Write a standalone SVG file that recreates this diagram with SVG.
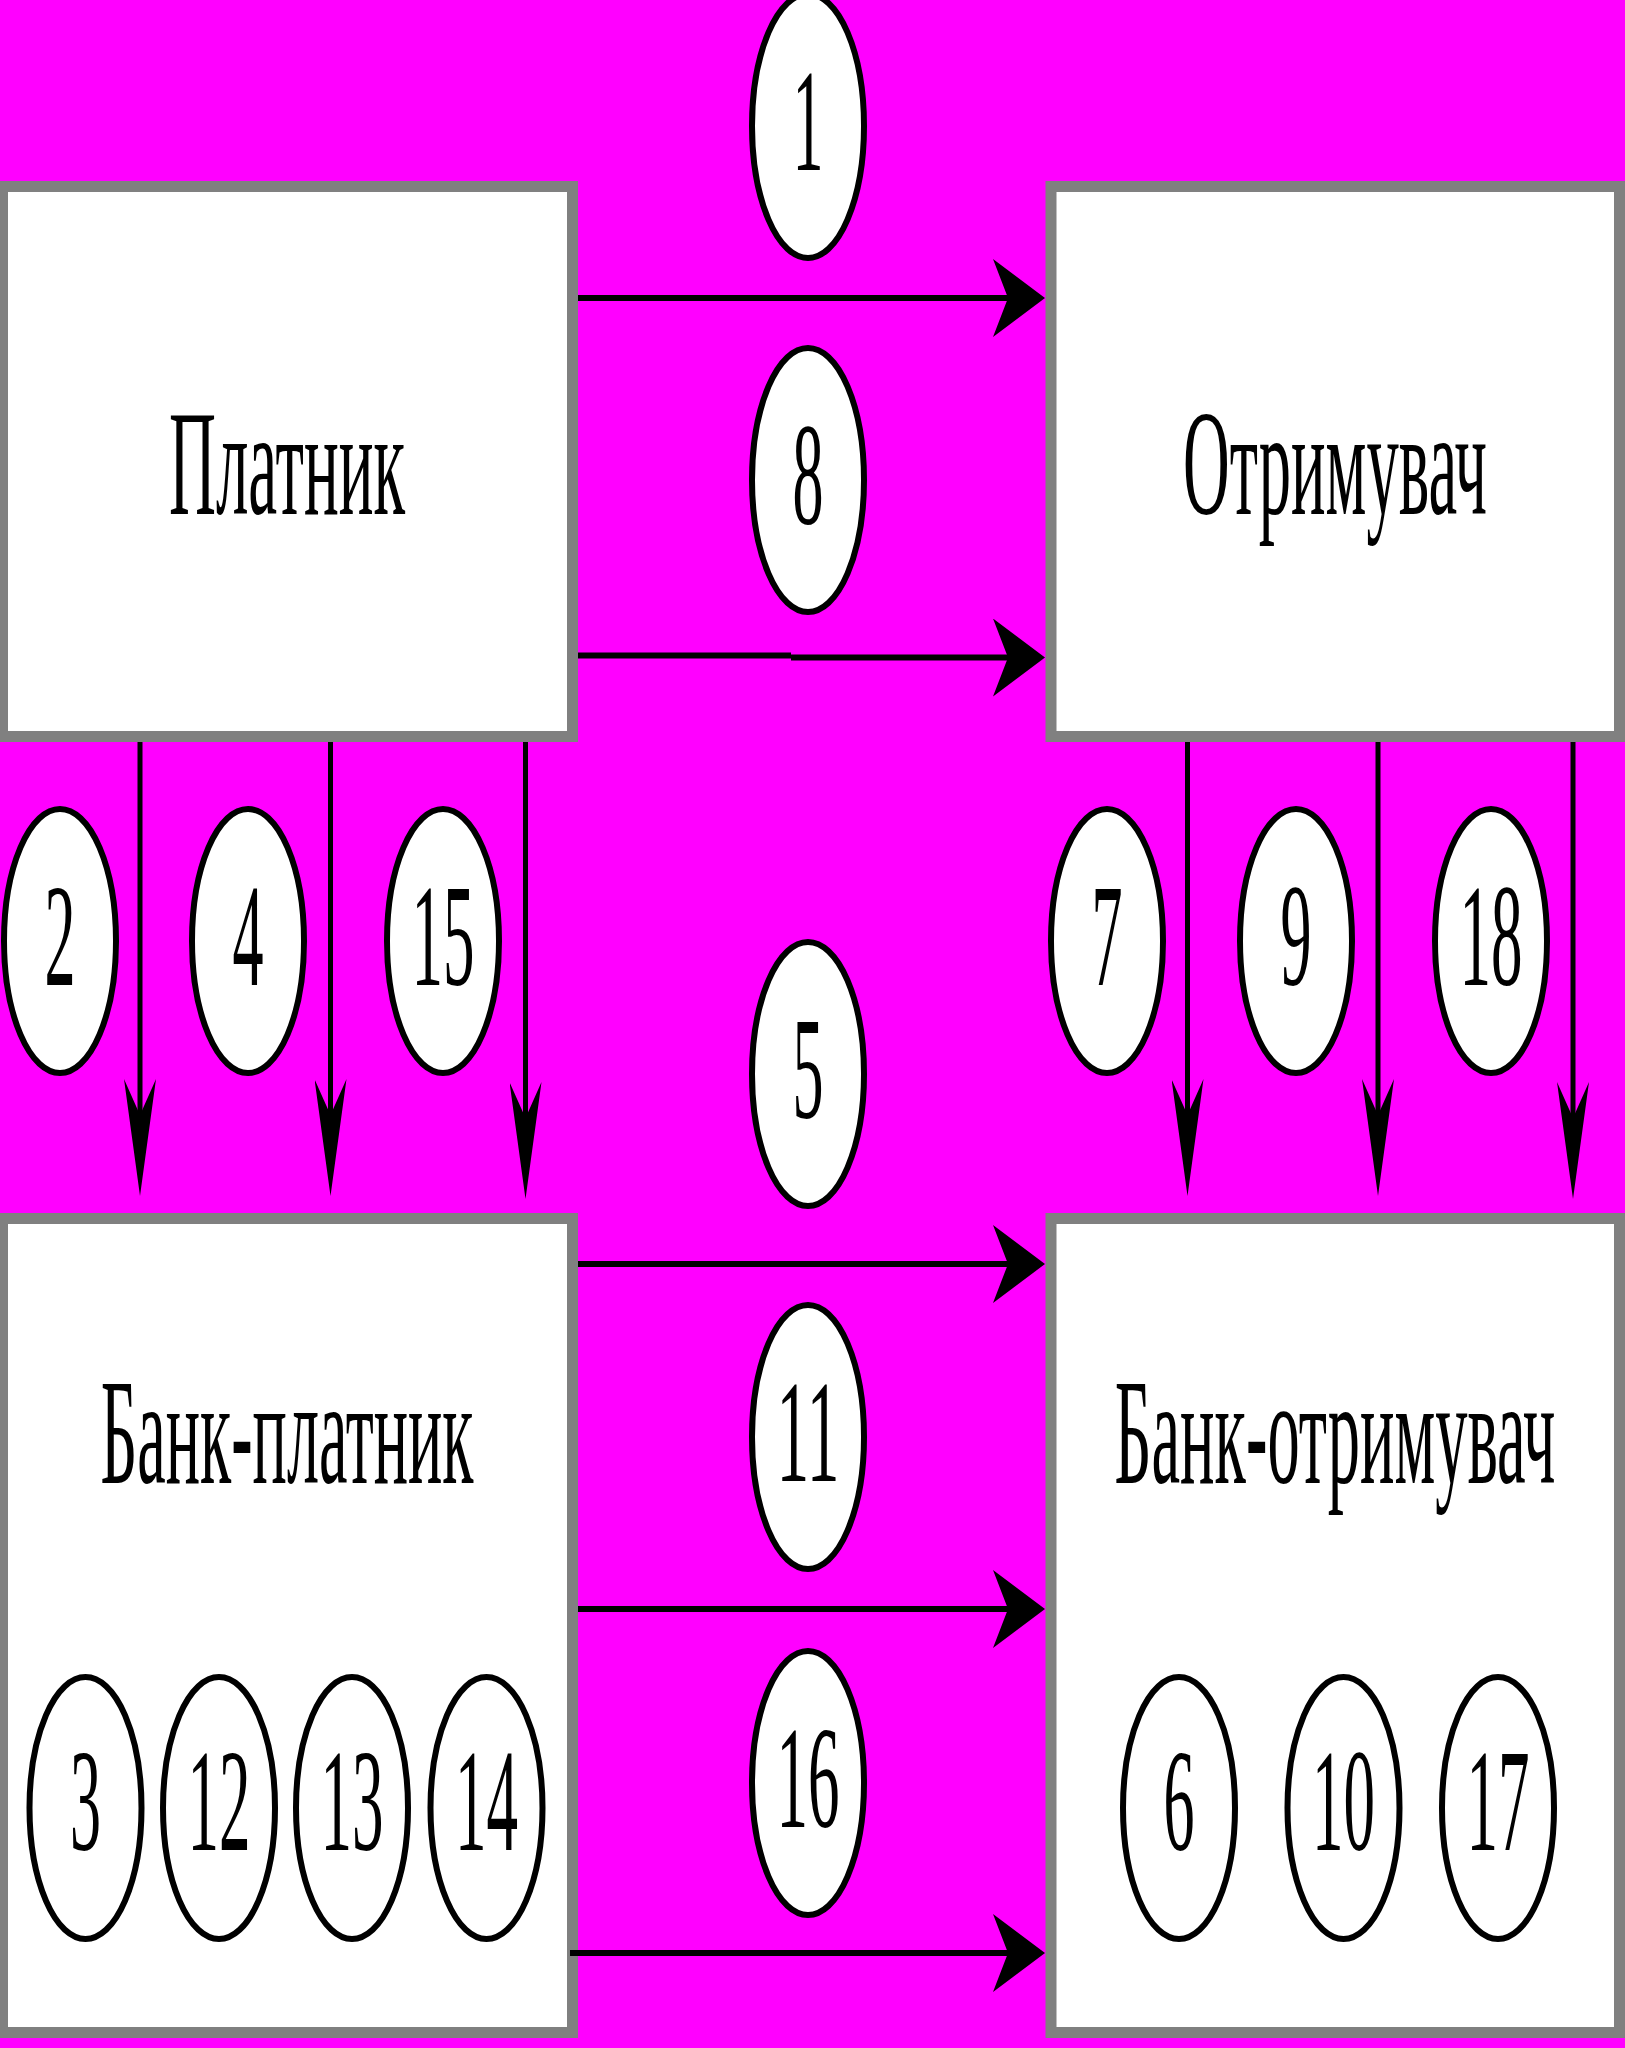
<svg xmlns="http://www.w3.org/2000/svg" width="1625" height="2048" viewBox="0 0 1625 2048">
<defs>
<style>
.box{fill:#fff;stroke:#808080;stroke-width:11}
.oval{fill:#fff;stroke:#000;stroke-width:6}
.num{font-family:"Liberation Serif","Times New Roman",serif;font-size:146px;fill:#000;text-anchor:middle}
.lbl{font-family:"Liberation Serif","Times New Roman",serif;font-size:150px;fill:#000;text-anchor:middle}
.h{stroke:#000;stroke-width:6;fill:none;marker-end:url(#ah)}
.v{stroke:#000;stroke-width:5;fill:none;marker-end:url(#av)}
</style>
<marker id="ah" markerUnits="userSpaceOnUse" viewBox="0 0 52 78" markerWidth="52" markerHeight="78" refX="15" refY="39" orient="auto">
<path d="M0,0 L52,39 L0,78 L15,39 Z" fill="#000"/>
</marker>
<marker id="av" markerUnits="userSpaceOnUse" viewBox="0 0 117 32" markerWidth="117" markerHeight="32" refX="36" refY="16" orient="auto">
<path d="M0,0 L117,16 L0,32 L36,16 Z" fill="#000"/>
</marker>
</defs>
<rect x="0" y="0" width="1625" height="2048" fill="#FF00FF"/>

<g id="platnyk"><rect class="box" x="2.5" y="186.5" width="570" height="550"/><text class="lbl" x="287" y="514" textLength="236" lengthAdjust="spacingAndGlyphs">Платник</text></g>
<g id="otrymuvach"><rect class="box" x="1051" y="186.5" width="568.5" height="550"/><text class="lbl" x="1335" y="514" textLength="304" lengthAdjust="spacingAndGlyphs">Отримувач</text></g>
<g id="bank-platnyk"><rect class="box" x="2.5" y="1218.5" width="570" height="814"/><text class="lbl" x="287" y="1483" textLength="373" lengthAdjust="spacingAndGlyphs">Банк-платник</text></g>
<g id="bank-otrymuvach"><rect class="box" x="1051" y="1218.5" width="568.5" height="814"/><text class="lbl" x="1335" y="1483" textLength="441" lengthAdjust="spacingAndGlyphs">Банк-отримувач</text></g>

<g id="connectors">
<path class="h" d="M578,298 H1008"/>
<path class="h" d="M578,655.5 H791 M791,657.5 H1008"/>
<path class="h" d="M578,1264 H1008"/>
<path class="h" d="M578,1609 H1008"/>
<path class="h" d="M570,1953 H1008"/>
<path class="v" d="M140,742 V1115"/>
<path class="v" d="M330.5,742 V1115"/>
<path class="v" d="M525.5,742 V1118"/>
<path class="v" d="M1187.5,742 V1115"/>
<path class="v" d="M1378,742 V1115"/>
<path class="v" d="M1573,742 V1118"/>
</g>

<g id="n1"><ellipse class="oval" cx="808" cy="126" rx="56" ry="132"/><text class="num" x="808" y="170" textLength="31" lengthAdjust="spacingAndGlyphs">1</text></g>
<g id="n8"><ellipse class="oval" cx="808" cy="480" rx="56" ry="132"/><text class="num" x="808" y="524" textLength="31" lengthAdjust="spacingAndGlyphs">8</text></g>
<g id="n5"><ellipse class="oval" cx="808" cy="1074" rx="56" ry="132"/><text class="num" x="808" y="1118" textLength="31" lengthAdjust="spacingAndGlyphs">5</text></g>
<g id="n11"><ellipse class="oval" cx="808" cy="1437" rx="56" ry="132"/><text class="num" x="808" y="1481" textLength="63" lengthAdjust="spacingAndGlyphs">11</text></g>
<g id="n16"><ellipse class="oval" cx="808" cy="1783" rx="56" ry="132"/><text class="num" x="808" y="1827" textLength="63" lengthAdjust="spacingAndGlyphs">16</text></g>

<g id="n2"><ellipse class="oval" cx="60" cy="941" rx="56" ry="132"/><text class="num" x="60" y="985" textLength="31" lengthAdjust="spacingAndGlyphs">2</text></g>
<g id="n4"><ellipse class="oval" cx="248" cy="941" rx="56" ry="132"/><text class="num" x="248" y="985" textLength="31" lengthAdjust="spacingAndGlyphs">4</text></g>
<g id="n15"><ellipse class="oval" cx="443" cy="941" rx="56" ry="132"/><text class="num" x="443" y="985" textLength="63" lengthAdjust="spacingAndGlyphs">15</text></g>
<g id="n7"><ellipse class="oval" cx="1107" cy="941" rx="56" ry="132"/><text class="num" x="1107" y="985" textLength="31" lengthAdjust="spacingAndGlyphs">7</text></g>
<g id="n9"><ellipse class="oval" cx="1296" cy="941" rx="56" ry="132"/><text class="num" x="1296" y="985" textLength="31" lengthAdjust="spacingAndGlyphs">9</text></g>
<g id="n18"><ellipse class="oval" cx="1491" cy="941" rx="56" ry="132"/><text class="num" x="1491" y="985" textLength="63" lengthAdjust="spacingAndGlyphs">18</text></g>

<g id="n3"><ellipse class="oval" cx="85.5" cy="1808" rx="56" ry="131"/><text class="num" x="85.5" y="1850" textLength="31" lengthAdjust="spacingAndGlyphs">3</text></g>
<g id="n12"><ellipse class="oval" cx="219" cy="1808" rx="56" ry="131"/><text class="num" x="219" y="1850" textLength="63" lengthAdjust="spacingAndGlyphs">12</text></g>
<g id="n13"><ellipse class="oval" cx="352" cy="1808" rx="56" ry="131"/><text class="num" x="352" y="1850" textLength="63" lengthAdjust="spacingAndGlyphs">13</text></g>
<g id="n14"><ellipse class="oval" cx="486.5" cy="1808" rx="56" ry="131"/><text class="num" x="486.5" y="1850" textLength="63" lengthAdjust="spacingAndGlyphs">14</text></g>
<g id="n6"><ellipse class="oval" cx="1179" cy="1808" rx="56" ry="131"/><text class="num" x="1179" y="1850" textLength="31" lengthAdjust="spacingAndGlyphs">6</text></g>
<g id="n10"><ellipse class="oval" cx="1343.5" cy="1808" rx="56" ry="131"/><text class="num" x="1343.5" y="1850" textLength="63" lengthAdjust="spacingAndGlyphs">10</text></g>
<g id="n17"><ellipse class="oval" cx="1498" cy="1808" rx="56" ry="131"/><text class="num" x="1498" y="1850" textLength="63" lengthAdjust="spacingAndGlyphs">17</text></g>
</svg>
